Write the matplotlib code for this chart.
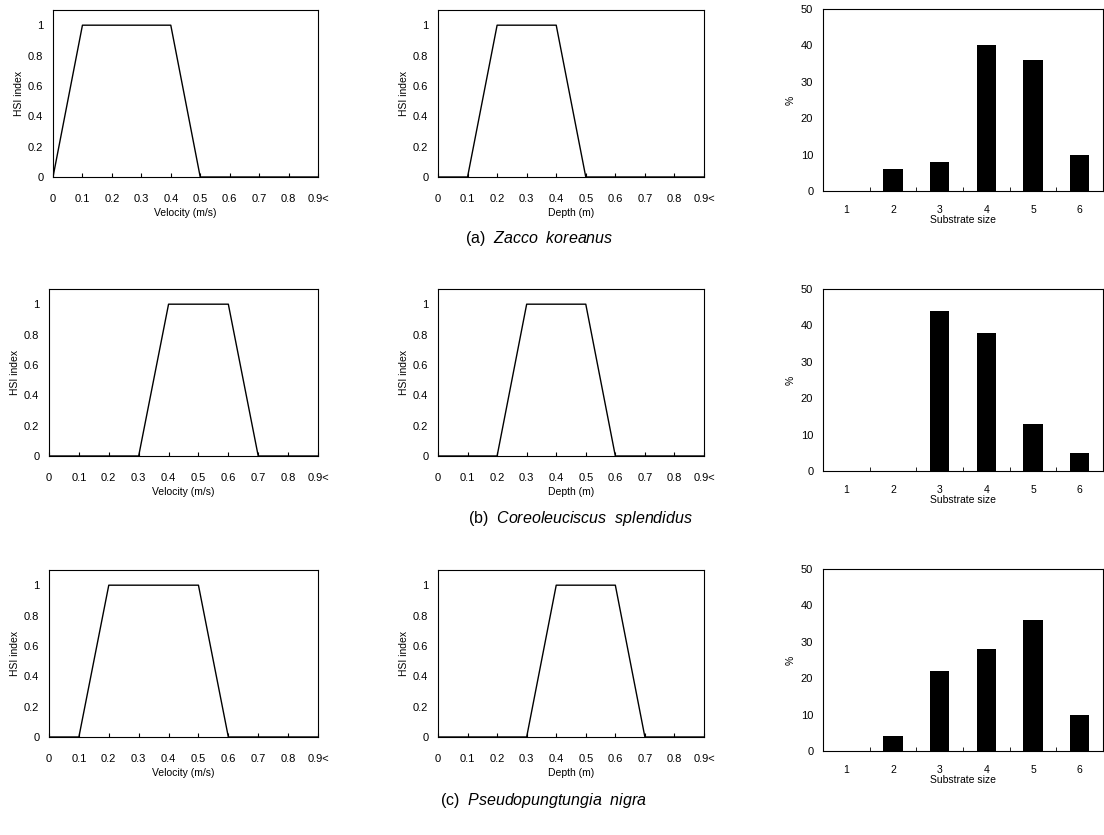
import numpy as np
import matplotlib
matplotlib.use('Agg')
import matplotlib.pyplot as plt

plt.rcParams['font.family'] = ['Liberation Sans', 'DejaVu Sans']
plt.rcParams['mathtext.fontset'] = 'custom'
plt.rcParams['mathtext.it'] = 'Liberation Sans:italic'
plt.rcParams['mathtext.rm'] = 'Liberation Sans'

# HSI curves, value at each 0.1 step from 0 to 0.9
hsi_x = [0, 0.1, 0.2, 0.3, 0.4, 0.5, 0.6, 0.7, 0.8, 0.9]
hsi_xlabels = ['0', '0.1', '0.2', '0.3', '0.4', '0.5', '0.6', '0.7', '0.8', '0.9<']
velocity_hsi = [
    [0, 1, 1, 1, 1, 0, 0, 0, 0, 0],
    [0, 0, 0, 0, 1, 1, 1, 0, 0, 0],
    [0, 0, 1, 1, 1, 1, 0, 0, 0, 0],
]
depth_hsi = [
    [0, 0, 1, 1, 1, 0, 0, 0, 0, 0],
    [0, 0, 0, 1, 1, 1, 0, 0, 0, 0],
    [0, 0, 0, 0, 1, 1, 1, 0, 0, 0],
]

# substrate size distribution (%)
substrate = [1, 2, 3, 4, 5, 6]
substrate_pct = [
    [0, 6, 8, 40, 36, 10],
    [0, 0, 44, 38, 13, 5],
    [0, 4, 22, 28, 36, 10],
]

labels = ['(a)', '(b)', '(c)']
species = ['Zacco\\ \\ koreanus', 'Coreoleuciscus\\ \\ splendidus', 'Pseudopungtungia\\ \\ nigra']
caption_x = [465, 468, 440]

W, H = 1104, 835
fig = plt.figure(figsize=(W / 100, H / 100), dpi=100)


def box(left, top, right, bottom):
    return [left / W, 1 - bottom / H, (right - left) / W, (bottom - top) / H]


def hsi_panel(rect, yvals, xlabel):
    ax = fig.add_axes(rect)
    ax.plot(hsi_x, yvals, color='black', lw=1.0)
    ax.set_xlim(0, 0.9)
    ax.set_ylim(0, 1.1)
    ax.set_xticks(hsi_x)
    ax.set_xticklabels(hsi_xlabels)
    ax.set_yticks([0, 0.2, 0.4, 0.6, 0.8, 1.0])
    ax.set_yticklabels(['0', '0.2', '0.4', '0.6', '0.8', '1'])
    ax.tick_params(axis='x', direction='in', length=3, pad=12, labelsize=8)
    ax.tick_params(axis='y', direction='in', length=0, pad=7, labelsize=8)
    ax.set_xlabel(xlabel, fontsize=7.5, labelpad=3)
    ax.set_ylabel('HSI index', fontsize=7.5, labelpad=3)
    for s in ax.spines.values():
        s.set_linewidth(0.8)
    return ax


def bar_panel(rect, vals):
    ax = fig.add_axes(rect)
    ax.bar(substrate, vals, width=0.42, color='black')
    ax.set_xlim(0.5, 6.5)
    ax.set_ylim(0, 50)
    ax.set_xticks(substrate)
    ax.set_xticks(np.arange(1.5, 6.5, 1), minor=True)
    ax.set_yticks([0, 10, 20, 30, 40, 50])
    ax.tick_params(axis='x', which='major', length=0, pad=10, labelsize=7.5)
    ax.tick_params(axis='x', which='minor', direction='in', length=3)
    ax.tick_params(axis='y', direction='in', length=0, pad=7, labelsize=8)
    ax.set_xlabel('Substrate size', fontsize=7.5, labelpad=0)
    ax.set_ylabel('%', fontsize=7.5, labelpad=4)
    for s in ax.spines.values():
        s.set_linewidth(0.8)
    return ax


hsi_tops = [10, 289, 570]
bar_tops = [9, 289, 569]
vel_left = [53, 49, 49]
caption_y = [238, 518, 800]

for i in range(3):
    t = hsi_tops[i]
    hsi_panel(box(vel_left[i], t, 318, t + 167), velocity_hsi[i], 'Velocity (m/s)')
    hsi_panel(box(438, t, 704, t + 167), depth_hsi[i], 'Depth (m)')
    bt = bar_tops[i]
    bar_panel(box(823, bt, 1103, bt + 182), substrate_pct[i])
    fig.text(caption_x[i] / W, 1 - caption_y[i] / H,
             labels[i] + '  $\\mathit{' + species[i] + '}$',
             fontsize=11.5, ha='left', va='center')

fig.savefig('out.png', dpi=100)
